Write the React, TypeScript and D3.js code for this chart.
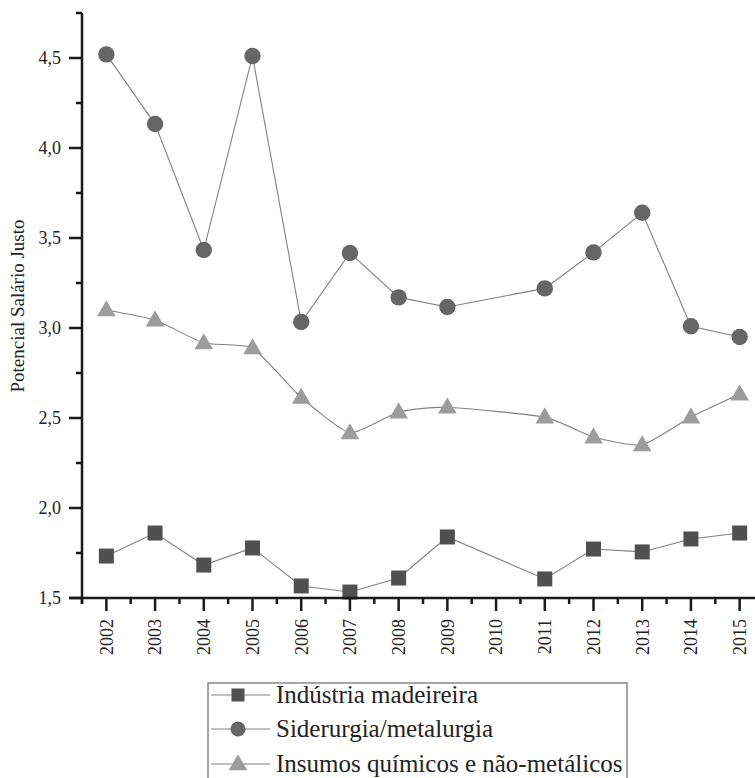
import React from "react";
import * as d3 from "d3";

const years = [2002, 2003, 2004, 2005, 2006, 2007, 2008, 2009, 2011, 2012, 2013, 2014, 2015];
const yearTicks = [2002, 2003, 2004, 2005, 2006, 2007, 2008, 2009, 2010, 2011, 2012, 2013, 2014, 2015];
const madeireira = [1.733, 1.861, 1.683, 1.778, 1.567, 1.533, 1.611, 1.839, 1.606, 1.772, 1.756, 1.828, 1.861];
const siderurgia = [4.52, 4.133, 3.433, 4.511, 3.033, 3.417, 3.17, 3.117, 3.22, 3.42, 3.64, 3.01, 2.95];
const insumos = [3.1, 3.044, 2.917, 2.889, 2.614, 2.417, 2.533, 2.56, 2.505, 2.394, 2.35, 2.505, 2.633];
const yMajorTicks = [1.5, 2.0, 2.5, 3.0, 3.5, 4.0, 4.5];
const yMinorTicks = [1.75, 2.25, 2.75, 3.25, 3.75, 4.25, 4.75];
const seriesNames = ["Indústria madeireira", "Siderurgia/metalurgia", "Insumos químicos e não-metálicos"];

const FONT = { fontFamily: "'Liberation Serif'" };

export default function App() {
  const W = 755, H = 778;
  const x = d3.scaleLinear().domain([2001.5, 2015.5]).range([82, 764]);
  const y = d3.scaleLinear().domain([1.5, 4.75]).range([598, 13]);
  const fmt = (v: number) => v.toFixed(1).replace(".", ",");

  const straight = d3.line<number>().x((_, i) => x(years[i])).y((d) => y(d));
  const smooth = d3
    .line<number>()
    .x((_, i) => x(years[i]))
    .y((d) => y(d))
    .curve(d3.curveCardinal.tension(0.5));

  const xMinor = d3.range(2001.5, 2015.6, 1);
  const tri = d3.symbol().type(d3.symbolTriangle).size(150)();
  const lineColor = "#808080";
  const sqColor = "#505050";
  const ciColor = "#666666";
  const trColor = "#9c9c9c";

  const sq = (cx: number, cy: number, s: number, k: string) => (
    <rect key={k} x={cx - s / 2} y={cy - s / 2} width={s} height={s} fill={sqColor} />
  );
  const triangle = (cx: number, cy: number, k: string, scale = 1) => (
    <path key={k} d={tri as string} transform={`translate(${cx},${cy + 1}) scale(${scale})`} fill={trColor} />
  );

  const legendX = 208, legendY = 683;
  const rowY = [695, 729, 764];

  return (
    <div style={{ position: "absolute", left: 0, top: 0 }}>
      <svg width={W} height={H} style={{ display: "block", background: "#fff" }}>
        {/* lines */}
        <path d={straight(siderurgia) as string} fill="none" stroke={lineColor} strokeWidth={1.1} />
        <path d={smooth(insumos) as string} fill="none" stroke={lineColor} strokeWidth={1.1} />
        <path d={straight(madeireira) as string} fill="none" stroke={lineColor} strokeWidth={1.1} />
        {/* markers */}
        {siderurgia.map((v, i) => (
          <circle key={"c" + i} cx={x(years[i])} cy={y(v)} r={8.2} fill={ciColor} />
        ))}
        {insumos.map((v, i) => triangle(x(years[i]), y(v), "t" + i))}
        {madeireira.map((v, i) => sq(x(years[i]), y(v), 15, "s" + i))}

        {/* y axis */}
        <line x1={82} x2={82} y1={13} y2={604} stroke="#1a1a1a" strokeWidth={2.5} />
        {yMajorTicks.map((t) => (
          <g key={"ym" + t}>
            <line x1={69} x2={82} y1={y(t)} y2={y(t)} stroke="#1a1a1a" strokeWidth={2.5} />
            <text x={61} y={y(t)} dy="0.35em" textAnchor="end" fontSize={18} fill="#222" style={FONT}>
              {fmt(t)}
            </text>
          </g>
        ))}
        {yMinorTicks.map((t) => (
          <line key={"yn" + t} x1={76} x2={82} y1={y(t)} y2={y(t)} stroke="#1a1a1a" strokeWidth={2.5} />
        ))}
        <text
          transform={`translate(24,306) rotate(-90)`}
          textAnchor="middle"
          fontSize={19}
          fill="#222"
          style={FONT}
        >
          Potencial Salário Justo
        </text>

        {/* x axis */}
        <line x1={69} x2={764} y1={598} y2={598} stroke="#1a1a1a" strokeWidth={2.5} />
        {yearTicks.map((t) => (
          <g key={"xm" + t}>
            <line x1={x(t)} x2={x(t)} y1={598} y2={611} stroke="#1a1a1a" strokeWidth={2.5} />
            <text
              transform={`translate(${x(t)},619) rotate(-90)`}
              textAnchor="end"
              dy="0.35em"
              fontSize={18}
              fill="#222"
              style={FONT}
            >
              {t}
            </text>
          </g>
        ))}
        {xMinor.map((t) => (
          <line key={"xn" + t} x1={x(t)} x2={x(t)} y1={598} y2={604} stroke="#1a1a1a" strokeWidth={2.5} />
        ))}

        {/* legend */}
        <rect x={legendX} y={legendY} width={419} height={120} fill="#fff" stroke="#6a6a6a" strokeWidth={1.2} />
        {seriesNames.map((name, i) => (
          <g key={"lg" + i}>
            <line x1={211} x2={270} y1={rowY[i]} y2={rowY[i]} stroke={lineColor} strokeWidth={1.1} />
            {i === 0 && sq(238, rowY[i], 13, "lsq")}
            {i === 1 && <circle cx={238} cy={rowY[i]} r={7.5} fill={ciColor} />}
            {i === 2 && triangle(238, rowY[i], "ltr", 1)}
            <text x={276} y={rowY[i]} dy="0.33em" fontSize={25} fill="#222" style={FONT}>
              {name}
            </text>
          </g>
        ))}
      </svg>
    </div>
  );
}
